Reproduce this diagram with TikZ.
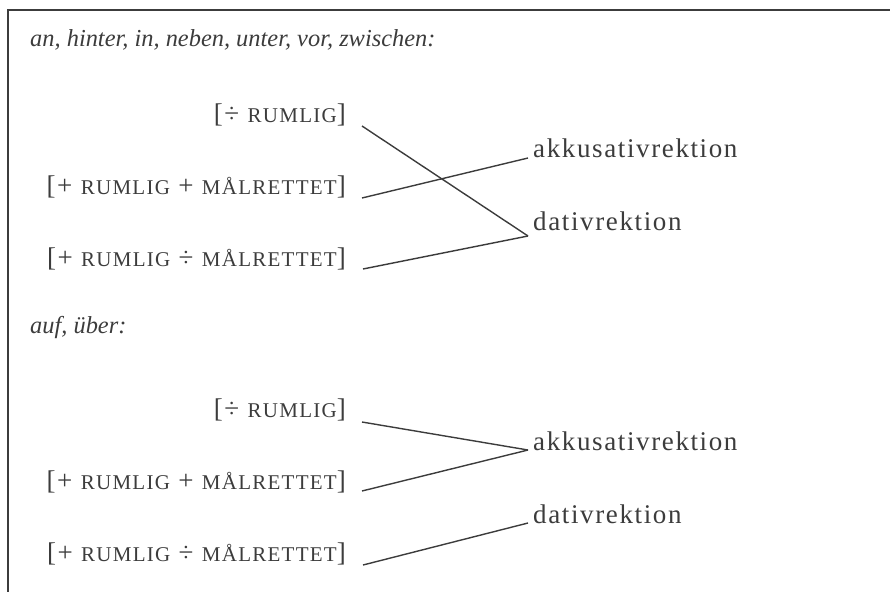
\documentclass[tikz,border=0pt]{standalone}
\usepackage{fontspec}
\setmainfont{Liberation Serif}
\newfontfamily\spaced{Liberation Serif}[LetterSpace=6]
\definecolor{ink}{HTML}{3C3C3C}
\newcommand{\smc}[1]{{\fontsize{21}{21}\selectfont #1}}
\begin{document}
\begin{tikzpicture}[x=1pt,y=-1pt,
  txt/.style={inner sep=0pt, text=ink, font=\spaced\fontsize{27}{27}\selectfont},
  ttl/.style={inner sep=0pt, text=ink, font=\fontsize{24.4}{24.4}\selectfont\itshape},
  ln/.style={draw=ink, line width=1.4pt}]
\useasboundingbox (0,0) rectangle (890,592);
\draw[ink, line width=1.4pt] (890,10) -- (8,10) -- (8,592);
% panel 1
\node[ttl, anchor=base west] (t1) at (30,46) {an, hinter, in, neben, unter, vor, zwischen:};
\node[txt, anchor=base east] (a1) at (346,122) {[÷ \smc{RUMLIG}]};
\node[txt, anchor=base east] (b1) at (346,194) {[+ \smc{RUMLIG} + \smc{MÅLRETTET}]};
\node[txt, anchor=base east] (c1) at (346,266) {[+ \smc{RUMLIG} ÷ \smc{MÅLRETTET}]};
\node[txt, anchor=base west] (k1) at (533,157) {akkusativrektion};
\node[txt, anchor=base west] (d1) at (533,230) {dativrektion};
\draw[ln] ([xshift=16pt,yshift=-4pt]a1.base east) -- ([xshift=-5pt,yshift=-6pt]d1.base west);
\draw[ln] ([xshift=16pt,yshift=-4pt]b1.base east) -- ([xshift=-5pt,yshift=-1pt]k1.base west);
\draw[ln] ([xshift=17pt,yshift=-3pt]c1.base east) -- ([xshift=-5pt,yshift=-6pt]d1.base west);
% panel 2
\node[ttl, anchor=base west] (t2) at (30,333) {auf, über:};
\node[txt, anchor=base east] (a2) at (346,417) {[÷ \smc{RUMLIG}]};
\node[txt, anchor=base east] (b2) at (346,489) {[+ \smc{RUMLIG} + \smc{MÅLRETTET}]};
\node[txt, anchor=base east] (c2) at (346,561) {[+ \smc{RUMLIG} ÷ \smc{MÅLRETTET}]};
\node[txt, anchor=base west] (k2) at (533,450) {akkusativrektion};
\node[txt, anchor=base west] (d2) at (533,523) {dativrektion};
\draw[ln] ([xshift=16pt,yshift=-5pt]a2.base east) -- ([xshift=-5pt,yshift=0pt]k2.base west);
\draw[ln] ([xshift=16pt,yshift=-2pt]b2.base east) -- ([xshift=-5pt,yshift=0pt]k2.base west);
\draw[ln] ([xshift=17pt,yshift=-4pt]c2.base east) -- ([xshift=-5pt,yshift=0pt]d2.base west);
\end{tikzpicture}
\end{document}
